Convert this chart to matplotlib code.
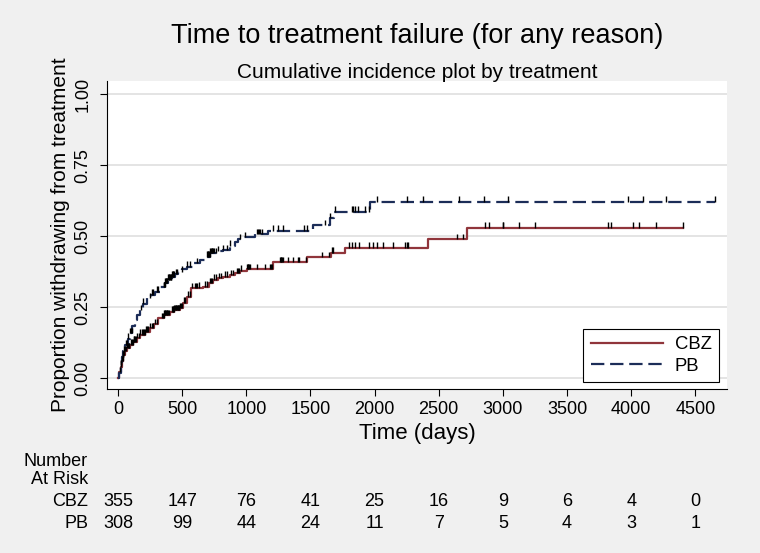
import numpy as np
import matplotlib
matplotlib.use('Agg')
import matplotlib.pyplot as plt
import matplotlib.transforms as mtransforms

plt.rcParams['font.family'] = ['Liberation Sans', 'DejaVu Sans']

# cumulative incidence steps (time in days, proportion)
cbz_t = [0, 10, 21, 30, 41, 55, 68, 90, 119, 145, 171, 210, 249, 280, 314, 360,
         405, 440, 483, 510, 535, 566, 620, 665, 710, 743, 780, 821, 870, 912,
         951, 1003, 1206, 1471, 1658, 1769, 2419, 2718]
cbz_p = [0, 0.02, 0.04, 0.06, 0.081, 0.095, 0.105, 0.117, 0.128, 0.14, 0.152,
         0.163, 0.175, 0.19, 0.21, 0.222, 0.234, 0.24, 0.246, 0.265, 0.287, 0.316,
         0.319, 0.322, 0.335, 0.346, 0.351, 0.357, 0.363, 0.369, 0.378, 0.384,
         0.409, 0.425, 0.442, 0.459, 0.490, 0.530]
cbz_end = 4401

pb_t = [0, 10, 20, 29, 42, 55, 75, 93, 112, 132, 150, 171, 195, 223, 255, 288,
        330, 366, 390, 418, 445, 470, 500, 535, 590, 639, 680, 717, 770, 821,
        870, 912, 938, 977, 1068, 1172, 1523, 1652, 1680, 1964]
pb_p = [0, 0.017, 0.045, 0.075, 0.095, 0.116, 0.138, 0.158, 0.182, 0.205, 0.222,
        0.24, 0.262, 0.281, 0.293, 0.304, 0.32, 0.334, 0.346, 0.357, 0.366, 0.375,
        0.384, 0.392, 0.404, 0.416, 0.428, 0.44, 0.446, 0.451, 0.466, 0.481,
        0.489, 0.496, 0.508, 0.519, 0.539, 0.563, 0.586, 0.622]
pb_end = 4653

# censoring times
cbz_cens = [15, 25, 32, 38, 44, 50, 56, 62, 70, 75, 82, 88, 100, 108, 115, 122,
            128, 134, 140, 150, 160, 172, 185, 195, 200, 208, 215, 222, 235, 250,
            262, 275, 290, 300, 345, 350, 355, 360, 365, 370, 375, 380, 385, 390,
            395, 420, 425, 430, 435, 440, 445, 450, 455, 460, 465, 470, 474, 478,
            484, 490, 500, 512, 525, 545, 560, 580, 600, 605, 615, 630, 680, 690,
            720, 725, 730, 750, 760, 790, 800, 830, 850, 880, 900, 925, 935, 945,
            960, 1005, 1010, 1015, 1020, 1025, 1080, 1145, 1185, 1195, 1200, 1263,
            1268, 1273, 1278, 1284, 1328, 1362, 1405, 1413, 1465, 1588, 1647, 1665,
            1678, 1803, 1821, 1847, 1881, 1959, 1985, 2016, 2063, 2141, 2237, 2250,
            2263, 2645, 2687, 2860, 2894, 2998, 3003, 3128, 3253, 3817, 3843, 4012,
            4064, 4191, 4401]
pb_cens = [20, 26, 35, 40, 48, 62, 68, 80, 95, 102, 110, 180, 195, 249, 262, 275,
           301, 314, 355, 360, 365, 368, 372, 376, 380, 385, 390, 395, 400, 405,
           410, 415, 420, 425, 430, 440, 450, 457, 496, 535, 561, 613, 690, 700,
           705, 710, 715, 720, 725, 730, 735, 740, 745, 760, 780, 821, 847, 873,
           950, 990, 1081, 1090, 1100, 1110, 1120, 1211, 1250, 1284, 1450, 1471,
           1613, 1652, 1691, 1821, 1834, 1847, 1873, 1925, 1959, 2016, 2250, 2375,
           2660, 2855, 3042, 3973, 4090, 4269, 4653]

# number at risk table
risk_times = [0, 500, 1000, 1500, 2000, 2500, 3000, 3500, 4000, 4500]
cbz_risk = [355, 147, 76, 41, 25, 16, 9, 6, 4, 0]
pb_risk = [308, 99, 44, 24, 11, 7, 5, 4, 3, 1]

red = '#90353b'
navy = '#1c2d58'

fig = plt.figure(figsize=(7.6, 5.53), dpi=100, facecolor='#f0f0f0')
ax = fig.add_axes([107/760, 164/553, 620/760, 308/553])
ax.set_facecolor('white')


def step_xy(t, p, end):
    return list(t) + [end], list(p) + [p[-1]]


def at(t, p, c):
    idx = np.searchsorted(t, c, side='right') - 1
    return np.array(p)[idx]


x, y = step_xy(cbz_t, cbz_p, cbz_end)
ax.plot(x, y, drawstyle='steps-post', color=red, lw=1.6, label='CBZ', zorder=3)
x, y = step_xy(pb_t, pb_p, pb_end)
ax.plot(x, y, drawstyle='steps-post', color=navy, lw=1.6, ls=(0, (6, 2.6)),
        label='PB', zorder=3)

# censor ticks
for t, p, c in [(cbz_t, cbz_p, cbz_cens), (pb_t, pb_p, pb_cens)]:
    yc = at(t, p, c)
    ax.vlines(c, yc, yc + 0.019, color='black', lw=1.0, zorder=4)

ax.set_xlim(-86, 4747)
ax.set_ylim(-0.0388, 1.047)
ax.set_xticks(risk_times)
ax.set_yticks([0, 0.25, 0.5, 0.75, 1.0])
ax.set_yticklabels(['0.00', '0.25', '0.50', '0.75', '1.00'], rotation=90, va='center')
ax.grid(axis='y', color='#e4e4e4', lw=1.4)
ax.set_axisbelow(True)
for s in ['top', 'right']:
    ax.spines[s].set_visible(False)
for s in ['left', 'bottom']:
    ax.spines[s].set_linewidth(0.8)
ax.tick_params(direction='out', length=5, width=0.8, labelsize=13)
ax.tick_params(axis='x', pad=4)
ax.tick_params(axis='y', pad=6)

fig.text(61/760, 1 - 235/553, 'Proportion withdrawing from treatment', rotation=90,
         ha='center', va='center', fontsize=15)
fig.text(417/760, 1 - 433/553, 'Time (days)', ha='center', va='center', fontsize=16)
fig.text(417/760, 1 - 36/553, 'Time to treatment failure (for any reason)',
         ha='center', va='center', fontsize=19.5)
fig.text(417/760, 1 - 72/553, 'Cumulative incidence plot by treatment',
         ha='center', va='center', fontsize=15)

leg = ax.legend(loc='lower right', bbox_to_anchor=(0.987, 0.0227), borderaxespad=0,
                fontsize=13.3, handlelength=3.9, handletextpad=0.65, borderpad=0.4,
                labelspacing=0.25, fancybox=False, framealpha=1, edgecolor='black')
leg.get_frame().set_linewidth(0.8)

# number at risk
trans = mtransforms.blended_transform_factory(ax.transData, fig.transFigure)
fig.text(88/760, 1 - 461/553, 'Number', ha='right', va='center', fontsize=13)
fig.text(88/760, 1 - 480/553, 'At Risk', ha='right', va='center', fontsize=13)
fig.text(88/760, 1 - 502/553, 'CBZ', ha='right', va='center', fontsize=13)
fig.text(88/760, 1 - 523/553, 'PB', ha='right', va='center', fontsize=13)
for t, a, b in zip(risk_times, cbz_risk, pb_risk):
    ax.text(t, 1 - 502/553, str(a), transform=trans, ha='center', va='center', fontsize=13)
    ax.text(t, 1 - 523/553, str(b), transform=trans, ha='center', va='center', fontsize=13)

fig.savefig('out.png', dpi=100, facecolor=fig.get_facecolor())
